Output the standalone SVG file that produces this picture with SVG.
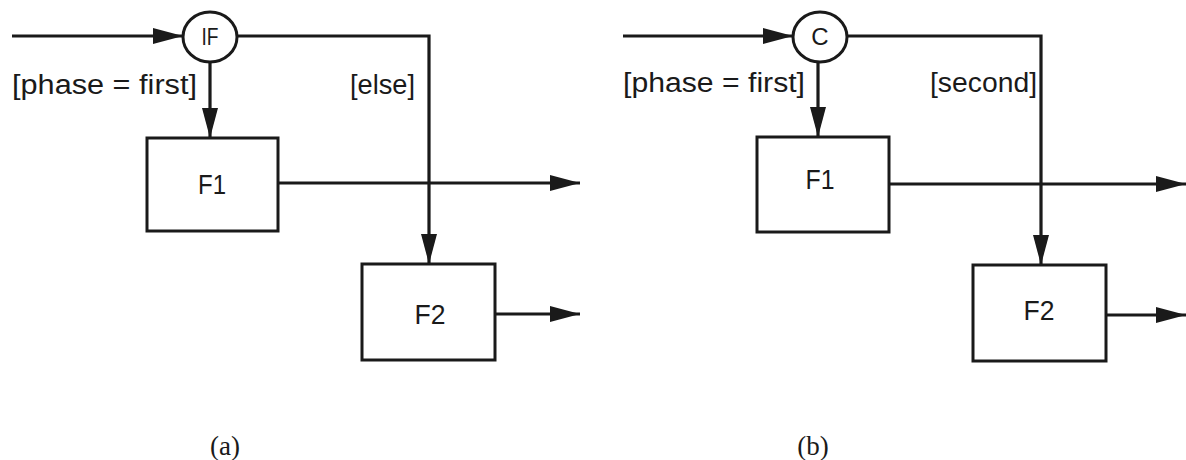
<svg xmlns="http://www.w3.org/2000/svg" width="1186" height="460" viewBox="0 0 1186 460">
<defs>
<style>
.box{fill:#fff;stroke:#1a1a1a;stroke-width:3}
.dec{fill:#fff;stroke:#1a1a1a;stroke-width:3}
.ln{fill:none;stroke:#1a1a1a;stroke-width:3.2;marker-end:url(#ah)}
.lbl{font-family:"Liberation Sans",Arial,sans-serif;font-size:27px;fill:#1a1a1a}
.nt{font-family:"Liberation Sans",Arial,sans-serif;font-size:27px;fill:#1a1a1a;text-anchor:middle}
.dt{font-family:"Liberation Sans",Arial,sans-serif;font-size:24px;fill:#1a1a1a;text-anchor:middle}
.cap{font-family:"Liberation Serif","Times New Roman",serif;font-size:27px;fill:#1a1a1a;text-anchor:middle}
</style>
<marker id="ah" markerUnits="userSpaceOnUse" markerWidth="30" markerHeight="16" refX="30" refY="8" orient="auto">
<path d="M0,0 L30,8 L0,16 z" fill="#1a1a1a"/>
</marker>
</defs>
<rect width="1186" height="460" fill="#fff"/>
<g id="connectors">
<path class="ln" d="M12,36 H183"/>
<path class="ln" d="M210,62 V138"/>
<path class="ln" d="M237,36 H429 V264"/>
<path class="ln" d="M278,183 H580"/>
<path class="ln" d="M495,314 H580"/>
<path class="ln" d="M623,36 H793"/>
<path class="ln" d="M818,62 V137"/>
<path class="ln" d="M847,36 H1041 V265"/>
<path class="ln" d="M889,184 H1186"/>
<path class="ln" d="M1106,315 H1186"/>
</g>
<g id="labels">
<text class="lbl" x="12" y="94" textLength="185" lengthAdjust="spacingAndGlyphs">[phase = first]</text>
<text class="lbl" x="350" y="94" textLength="65" lengthAdjust="spacingAndGlyphs">[else]</text>
<text class="lbl" x="623" y="92" textLength="182" lengthAdjust="spacingAndGlyphs">[phase = first]</text>
<text class="lbl" x="930" y="92" textLength="107" lengthAdjust="spacingAndGlyphs">[second]</text>
</g>
<g id="IF">
<ellipse class="dec" cx="210" cy="37" rx="27" ry="25"/>
<text class="dt" x="210" y="45" textLength="17" lengthAdjust="spacingAndGlyphs">IF</text>
</g>
<g id="F1a">
<rect class="box" x="147" y="138" width="131" height="93"/>
<text class="nt" x="212" y="194" textLength="28" lengthAdjust="spacingAndGlyphs">F1</text>
</g>
<g id="F2a">
<rect class="box" x="362" y="264" width="133" height="96"/>
<text class="nt" x="430" y="324" textLength="31" lengthAdjust="spacingAndGlyphs">F2</text>
</g>
<g id="C">
<ellipse class="dec" cx="820" cy="37" rx="27" ry="25"/>
<text class="dt" x="820" y="45">C</text>
</g>
<g id="F1b">
<rect class="box" x="757" y="137" width="132" height="95"/>
<text class="nt" x="820" y="189" textLength="29" lengthAdjust="spacingAndGlyphs">F1</text>
</g>
<g id="F2b">
<rect class="box" x="973" y="265" width="133" height="96"/>
<text class="nt" x="1039" y="320" textLength="31" lengthAdjust="spacingAndGlyphs">F2</text>
</g>
<g id="captions">
<text class="cap" x="225" y="455">(a)</text>
<text class="cap" x="813" y="455">(b)</text>
</g>
</svg>
